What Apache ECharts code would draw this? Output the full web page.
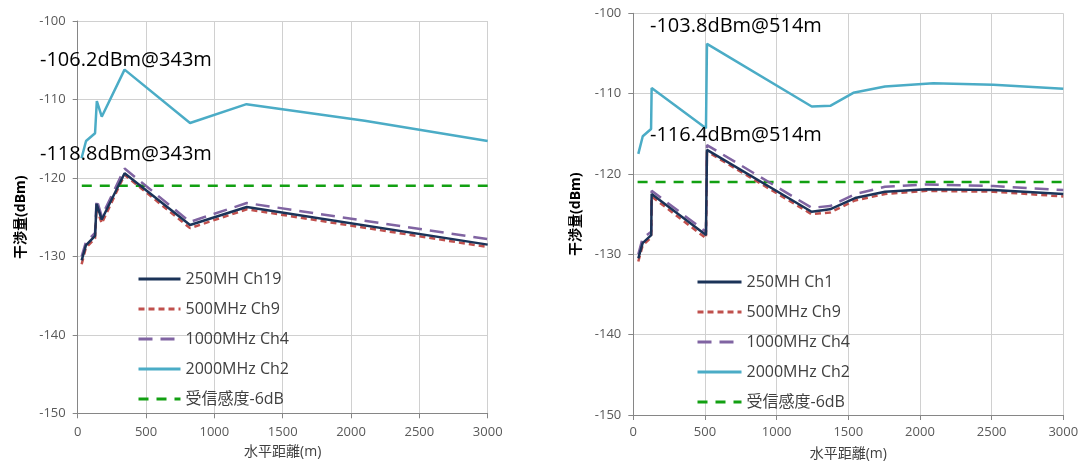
<!DOCTYPE html>
<html><head><meta charset="utf-8">
<script src="https://cdn.jsdelivr.net/npm/echarts@6/dist/echarts.min.js"></script>
<style>html,body{margin:0;padding:0;background:#fff}#c{width:1083px;height:466px}</style>
</head><body><div id="c"></div>
<script>
// ---- Left chart data (x in m, y in dBm) ----
const L_x_low = [29, 60, 127, 138, 176, 343, 822, 1237, 3000];
const L_250 = [-130.5, -128.6, -127.4, -123.3, -125.3, -119.4, -126.0, -123.7, -128.5];
const L_500 = [-131.0, -128.9, -127.7, -123.8, -125.8, -119.6, -126.4, -124.0, -128.8];
const L_1000 = [-130.0, -128.2, -127.0, -122.7, -124.9, -118.8, -125.6, -123.2, -127.8];
const L_x_2000 = [28, 61, 127, 140, 176, 343, 822, 1235, 2100, 3000];
const L_2000 = [-117.5, -115.3, -114.3, -110.2, -112.2, -106.2, -113.0, -110.6, -112.7, -115.3];
// ---- Right chart data ----
const R_x_low = [35, 65, 125, 128, 507, 514, 1244, 1372, 1547, 1756, 2047, 2512, 3000];
const R_250 = [-130.5, -128.6, -127.6, -122.5, -127.6, -117.0, -124.7, -124.4, -123.0, -122.2, -121.9, -122.0, -122.5];
const R_500 = [-130.9, -128.9, -127.9, -122.8, -128.0, -117.2, -125.0, -124.8, -123.3, -122.5, -122.1, -122.2, -122.8];
const R_1000 = [-130.0, -128.0, -127.2, -122.1, -127.2, -116.4, -124.2, -124.0, -122.5, -121.6, -121.3, -121.5, -122.0];
const R_x_2000 = [35, 66, 124, 128, 507, 514, 1245, 1377, 1535, 1756, 2093, 2512, 3000];
const R_2000 = [-117.5, -115.3, -114.4, -109.3, -114.3, -103.8, -111.6, -111.5, -109.9, -109.1, -108.7, -108.9, -109.4];
// sensitivity threshold
const SENS_X = [30, 3000];
const SENS_Y = -121;
// names / labels
const L_names = ['250MH Ch19', '500MHz Ch9', '1000MHz Ch4', '2000MHz Ch2', '受信感度-6dB'];
const R_names = ['250MH Ch1', '500MHz Ch9', '1000MHz Ch4', '2000MHz Ch2', '受信感度-6dB'];
const L_notes = ['-106.2dBm@343m', '-118.8dBm@343m'];
const R_notes = ['-103.8dBm@514m', '-116.4dBm@514m'];
const X_NAME = '水平距離(m)';
const Y_NAME = '干渉量(dBm)';

const zip = (xs, ys) => xs.map((x, i) => [x, ys[i]]);
const FONT = '"Open Sans", "Noto Sans CJK JP", sans-serif';
const colors = ['#1B3358', '#C0504D', '#8064A2', '#4BACC6', '#12A012'];
const styles = [
  {type: 'solid', width: 2.5},
  {type: [6, 4], width: 2.5},
  {type: [14, 8], width: 2.5},
  {type: 'solid', width: 2.5},
  {type: [10, 8], width: 2.5}
];

function mkSeries(idx, names, low, s250, s500, s1000, x2000, s2000) {
  const data = [zip(low, s250), zip(low, s500), zip(low, s1000), zip(x2000, s2000), zip(SENS_X, [SENS_Y, SENS_Y])];
  const order = [3, 4, 2, 1, 0];
  return order.map(k => ({
    type: 'line', name: names[k], xAxisIndex: idx, yAxisIndex: idx,
    data: data[k], symbol: 'none', showSymbol: false, silent: true, animation: false,
    z: 10 - k,
    lineStyle: {color: colors[k], type: styles[k].type, width: styles[k].width},
    itemStyle: {color: colors[k]}
  }));
}

const axisLabel = {color: '#595959', fontSize: 13, fontFamily: FONT};
function xAxis(idx, margin) {
  return {
    type: 'value', gridIndex: idx, min: 0, max: 3000, interval: 500,
    axisLine: {lineStyle: {color: '#868686', width: 1}},
    axisTick: {show: true, length: 5, lineStyle: {color: '#868686'}},
    splitLine: {lineStyle: {color: '#D0D0D0', width: 1}},
    axisLabel: Object.assign({margin: margin, formatter: v => String(v)}, axisLabel),
    name: X_NAME, nameLocation: 'middle', nameGap: 32,
    nameTextStyle: {color: '#404040', fontSize: 14, fontFamily: FONT}
  };
}
function yAxis(idx) {
  return {
    type: 'value', gridIndex: idx, min: -150, max: -100, interval: 10,
    axisLine: {show: true, lineStyle: {color: '#868686', width: 1}},
    axisTick: {show: true, length: 5, lineStyle: {color: '#868686'}},
    splitLine: {lineStyle: {color: '#D0D0D0', width: 1}},
    axisLabel: Object.assign({margin: 12, formatter: v => String(v)}, axisLabel),
    name: Y_NAME, nameLocation: 'middle', nameGap: 50, nameRotate: 90,
    nameTextStyle: {color: '#000', fontSize: 14, fontWeight: 'bold', fontFamily: FONT}
  };
}
function legend(names, left, top, w) {
  return {
    orient: 'vertical', left: left, top: top, itemWidth: w, itemHeight: 14, itemGap: 14,
    padding: 0, data: names, selectedMode: false,
    textStyle: {color: '#404040', fontSize: 16, fontFamily: FONT},
    itemStyle: {opacity: 0},
    lineStyle: {width: 3}
  };
}
function note(text, x, y) {
  return {type: 'text', left: x, top: y, z: 100,
    style: {text: text, fill: '#000', font: '20px ' + FONT}};
}

const chart = echarts.init(document.getElementById('c'), null, {renderer: 'canvas'});
chart.setOption({
  backgroundColor: '#fff',
  animation: false,
  grid: [
    {left: 77.7, top: 21, width: 410, height: 392.3},
    {left: 633.3, top: 13.3, width: 430, height: 407.7}
  ],
  xAxis: [xAxis(0, 12), xAxis(1, 11)],
  yAxis: [yAxis(0), yAxis(1)],
  legend: [legend(L_names, 137, 271, 42), legend(R_names, 696, 274, 44)],
  graphic: [
    note(L_notes[0], 40, 50), note(L_notes[1], 40, 144),
    note(R_notes[0], 650, 16), note(R_notes[1], 650, 125)
  ],
  series: [].concat(
    mkSeries(0, L_names, L_x_low, L_250, L_500, L_1000, L_x_2000, L_2000),
    mkSeries(1, R_names, R_x_low, R_250, R_500, R_1000, R_x_2000, R_2000)
  )
});
</script></body></html>
